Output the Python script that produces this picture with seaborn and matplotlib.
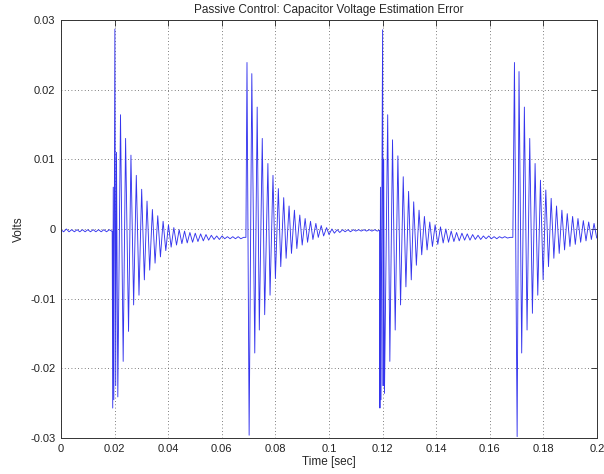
import numpy as np
import pandas as pd
import matplotlib
matplotlib.use('Agg')
import matplotlib.pyplot as plt
import seaborn as sns

# extreme points of the error signal (time in s, error in V)
pre_t = [0.0000, 0.0010, 0.0020, 0.0030, 0.0040, 0.0050, 0.0060, 0.0070, 0.0080, 0.0090,
         0.0100, 0.0110, 0.0120, 0.0130, 0.0140, 0.0150, 0.0160, 0.0170, 0.0180, 0.0189]
pre_v = [-0.0001, -0.0004, 0.0000, -0.0004, -0.0001, -0.0004, -0.0001, -0.0004, -0.0001, -0.0004,
         -0.0001, -0.0004, -0.0001, -0.0004, -0.0001, -0.0004, -0.0001, -0.0004, -0.0001, -0.0003]

burst1_t = [0.0191, 0.0193, 0.0195, 0.0197, 0.0201, 0.0204, 0.0207, 0.0212, 0.0222, 0.0232,
            0.0241, 0.0252, 0.0261, 0.0271, 0.0281, 0.0291, 0.0301, 0.0311, 0.0321, 0.0331,
            0.0341, 0.0351, 0.0361, 0.0371, 0.0381, 0.0391, 0.0401, 0.0411, 0.0421, 0.0431,
            0.0441, 0.0451, 0.0461, 0.0471, 0.0481, 0.0491, 0.0501, 0.0511, 0.0521, 0.0531,
            0.0541, 0.0551, 0.0561, 0.0571, 0.0581, 0.0591, 0.0601, 0.0611, 0.0621, 0.0631,
            0.0641, 0.0651, 0.0661, 0.0671, 0.0681]
burst1_v = [-0.0003, -0.0257, 0.0060, -0.0245, 0.0287, -0.0225, 0.0110, -0.0241, 0.0164, -0.0190,
            0.0130, -0.0147, 0.0106, -0.0109, 0.0077, -0.0095, 0.0057, -0.0073, 0.0040, -0.0059,
            0.0028, -0.0049, 0.0019, -0.0040, 0.0011, -0.0031, 0.0006, -0.0026, 0.0002, -0.0023,
            -0.0001, -0.0021, -0.0003, -0.0020, -0.0005, -0.0019, -0.0006, -0.0018, -0.0007, -0.0017,
            -0.0008, -0.0016, -0.0009, -0.0015, -0.0010, -0.0015, -0.0010, -0.0014, -0.0011, -0.0014,
            -0.0011, -0.0014, -0.0011, -0.0014, -0.0012]

burst2_t = [0.0690, 0.0694, 0.0702, 0.0712, 0.0723, 0.0732, 0.0740, 0.0751, 0.0760, 0.0772,
            0.0780, 0.0791, 0.0800, 0.0811, 0.0820, 0.0831, 0.0840, 0.0851, 0.0860, 0.0871,
            0.0880, 0.0891, 0.0900, 0.0911, 0.0920, 0.0931, 0.0940, 0.0951, 0.0960, 0.0971,
            0.0980, 0.0991, 0.1000, 0.1011, 0.1020, 0.1031, 0.1040, 0.1051, 0.1060, 0.1071,
            0.1080, 0.1091, 0.1100, 0.1111, 0.1120, 0.1131, 0.1140, 0.1151, 0.1160, 0.1171,
            0.1180, 0.1187]
burst2_v = [-0.0012, 0.0239, -0.0296, 0.0223, -0.0178, 0.0175, -0.0145, 0.0130, -0.0123, 0.0094,
            -0.0095, 0.0077, -0.0071, 0.0058, -0.0054, 0.0045, -0.0042, 0.0033, -0.0035, 0.0027,
            -0.0028, 0.0020, -0.0023, 0.0015, -0.0019, 0.0011, -0.0015, 0.0008, -0.0012, 0.0005,
            -0.0010, 0.0002, -0.0008, 0.0000, -0.0006, -0.0001, -0.0005, -0.0001, -0.0004, -0.0001,
            -0.0004, -0.0001, -0.0003, -0.0001, -0.0003, -0.0001, -0.0003, -0.0001, -0.0003, -0.0001,
            -0.0003, -0.0002]

burst3_t = [0.1189, 0.1190, 0.1192, 0.1194, 0.1200, 0.1202, 0.1204, 0.1207, 0.1219, 0.1227,
            0.1237, 0.1247, 0.1257, 0.1267, 0.1277, 0.1287, 0.1297, 0.1307, 0.1316, 0.1326,
            0.1336, 0.1346, 0.1356, 0.1366, 0.1376, 0.1386, 0.1396, 0.1406, 0.1416, 0.1426,
            0.1436, 0.1446, 0.1456, 0.1466, 0.1476, 0.1486, 0.1496, 0.1506, 0.1516, 0.1526,
            0.1536, 0.1546, 0.1556, 0.1566, 0.1576, 0.1586, 0.1596, 0.1606, 0.1616, 0.1626,
            0.1636, 0.1646, 0.1656, 0.1666, 0.1676]
burst3_v = [-0.0002, -0.0257, 0.0060, -0.0245, 0.0286, -0.0225, 0.0100, -0.0236, 0.0164, -0.0190,
            0.0128, -0.0145, 0.0105, -0.0109, 0.0075, -0.0083, 0.0054, -0.0073, 0.0039, -0.0052,
            0.0027, -0.0037, 0.0018, -0.0030, 0.0010, -0.0025, 0.0006, -0.0022, 0.0003, -0.0020,
            0.0000, -0.0019, -0.0003, -0.0018, -0.0005, -0.0017, -0.0006, -0.0016, -0.0007, -0.0016,
            -0.0008, -0.0015, -0.0009, -0.0015, -0.0010, -0.0014, -0.0010, -0.0014, -0.0011, -0.0014,
            -0.0011, -0.0013, -0.0011, -0.0013, -0.0012]

burst4_t = [0.1686, 0.1692, 0.1702, 0.1709, 0.1719, 0.1729, 0.1739, 0.1749, 0.1759, 0.1769,
            0.1779, 0.1789, 0.1799, 0.1809, 0.1819, 0.1829, 0.1839, 0.1849, 0.1859, 0.1869,
            0.1879, 0.1889, 0.1899, 0.1909, 0.1919, 0.1929, 0.1939, 0.1949, 0.1959, 0.1969,
            0.1979, 0.1989, 0.1999]
burst4_v = [-0.0012, 0.0239, -0.0298, 0.0226, -0.0178, 0.0175, -0.0145, 0.0130, -0.0121, 0.0094,
            -0.0095, 0.0070, -0.0073, 0.0056, -0.0054, 0.0044, -0.0042, 0.0033, -0.0035, 0.0027,
            -0.0030, 0.0022, -0.0025, 0.0018, -0.0022, 0.0015, -0.0019, 0.0012, -0.0017, 0.0010,
            -0.0015, 0.0008, -0.0013]

x_ticks = [0, 0.02, 0.04, 0.06, 0.08, 0.1, 0.12, 0.14, 0.16, 0.18, 0.2]
x_labels = ['0', '0.02', '0.04', '0.06', '0.08', '0.1', '0.12', '0.14', '0.16', '0.18', '0.2']
y_ticks = [-0.03, -0.02, -0.01, 0, 0.01, 0.02, 0.03]
y_labels = ['-0.03', '-0.02', '-0.01', '0', '0.01', '0.02', '0.03']

df = pd.DataFrame({
    'time': pre_t + burst1_t + burst2_t + burst3_t + burst4_t,
    'err': pre_v + burst1_v + burst2_v + burst3_v + burst4_v,
})

sns.set_style('white')
plt.rcParams['font.family'] = ['Liberation Sans', 'DejaVu Sans']

fig = plt.figure(figsize=(6.04, 4.74), dpi=100)
ax = fig.add_axes([61 / 604, 1 - 438 / 474, 536 / 604, 418 / 474])

sns.lineplot(data=df, x='time', y='err', estimator=None, sort=False,
             color='#3535ee', linewidth=0.65, ax=ax)

ax.set_xlim(0, 0.2)
ax.set_ylim(-0.03, 0.03)
ax.set_xticks(x_ticks)
ax.set_xticklabels(x_labels)
ax.set_yticks(y_ticks)
ax.set_yticklabels(y_labels)
ax.tick_params(direction='in', length=4, width=0.6, labelsize=8, colors='#222222',
               top=True, right=True, pad=4)
ax.grid(True, linestyle=(0, (1, 3)), color='#555555', linewidth=0.6)
for s in ax.spines.values():
    s.set_color('#333333')
    s.set_linewidth(0.7)

ax.set_title('Passive Control: Capacitor Voltage Estimation Error', fontsize=8.5, pad=5)
ax.set_xlabel('Time [sec]', fontsize=8.5, labelpad=2)
ax.set_ylabel('Volts', fontsize=8.5, labelpad=4)

fig.savefig('out.png', dpi=100)
